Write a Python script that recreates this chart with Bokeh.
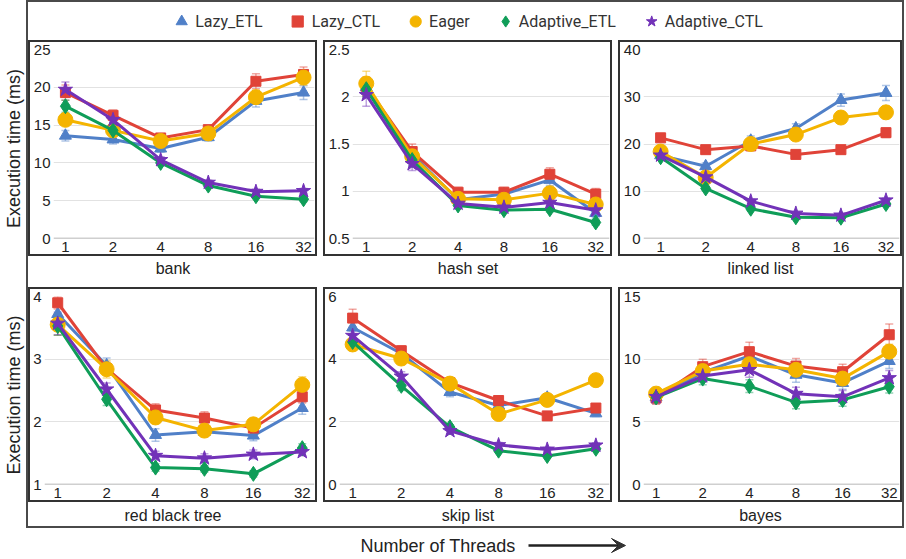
import math
from bokeh.plotting import figure
from bokeh.layouts import row, column
from bokeh.models import (Range1d, FixedTicker, ColumnDataSource, Whisker, TeeHead, Span,
                          Legend, LegendItem, Arrow, VeeHead, NumeralTickFormatter)
from bokeh.core.properties import value
from bokeh.embed import file_html
from bokeh.resources import INLINE

# ---------------- data ----------------
threads = ["1", "2", "4", "8", "16", "32"]
series_names = ["Lazy_ETL", "Lazy_CTL", "Eager", "Adaptive_ETL", "Adaptive_CTL"]
panel_names = ["bank", "hash set", "linked list", "red black tree", "skip list", "bayes"]

bank_lazy_etl = [13.6, 13.1, 11.9, 13.4, 18.2, 19.3]
bank_lazy_ctl = [19.3, 16.3, 13.3, 14.4, 20.8, 21.7]
bank_eager = [15.7, 14.3, 12.9, 13.9, 18.7, 21.3]
bank_adaptive_etl = [17.5, 14.3, 10.0, 7.0, 5.6, 5.2]
bank_adaptive_ctl = [19.7, 15.7, 10.4, 7.4, 6.2, 6.3]
bank_err_lazy_etl = [0.7, 0.6, 0.5, 0.5, 0.8, 0.9]
bank_err_lazy_ctl = [1.0, 0.7, 0.5, 0.5, 1.0, 1.0]
bank_err_eager = [0.6, 0.5, 0.5, 0.5, 0.9, 1.0]
bank_err_adaptive_etl = [0.8, 0.4, 0.3, 0.3, 0.3, 0.3]
bank_err_adaptive_ctl = [1.0, 0.5, 0.4, 0.3, 0.3, 0.3]

hash_lazy_etl = [2.10, 1.39, 0.91, 0.97, 1.12, 0.77]
hash_lazy_ctl = [2.11, 1.42, 0.99, 0.99, 1.18, 0.97]
hash_eager = [2.14, 1.37, 0.92, 0.91, 0.98, 0.86]
hash_adaptive_etl = [2.08, 1.33, 0.85, 0.80, 0.81, 0.67]
hash_adaptive_ctl = [2.02, 1.29, 0.87, 0.83, 0.88, 0.80]
hash_err_lazy_etl = [0.10, 0.07, 0.05, 0.05, 0.06, 0.05]
hash_err_lazy_ctl = [0.10, 0.08, 0.05, 0.05, 0.07, 0.06]
hash_err_eager = [0.13, 0.07, 0.05, 0.05, 0.05, 0.05]
hash_err_adaptive_etl = [0.08, 0.06, 0.03, 0.03, 0.03, 0.03]
hash_err_adaptive_ctl = [0.12, 0.07, 0.04, 0.03, 0.03, 0.03]

linked_lazy_etl = [17.6, 15.3, 20.7, 23.3, 29.3, 30.8]
linked_lazy_ctl = [21.3, 18.8, 19.6, 17.8, 18.8, 22.4]
linked_eager = [18.4, 12.9, 20.0, 22.0, 25.6, 26.7]
linked_adaptive_etl = [17.2, 10.6, 6.3, 4.5, 4.4, 7.3]
linked_adaptive_ctl = [17.6, 13.0, 7.9, 5.3, 4.9, 8.1]
linked_err_lazy_etl = [0.8, 0.7, 1.0, 1.0, 1.3, 1.6]
linked_err_lazy_ctl = [0.9, 0.8, 1.0, 0.7, 0.8, 1.0]
linked_err_eager = [0.8, 0.7, 0.9, 1.0, 1.2, 1.3]
linked_err_adaptive_etl = [0.5, 0.4, 0.4, 0.3, 0.3, 0.4]
linked_err_adaptive_ctl = [0.5, 0.4, 0.4, 0.3, 0.3, 0.4]

rbt_lazy_etl = [3.72, 2.90, 1.79, 1.84, 1.78, 2.22]
rbt_lazy_ctl = [3.90, 2.85, 2.19, 2.06, 1.90, 2.40]
rbt_eager = [3.55, 2.84, 2.07, 1.86, 1.96, 2.59]
rbt_adaptive_etl = [3.53, 2.36, 1.27, 1.25, 1.17, 1.58]
rbt_adaptive_ctl = [3.57, 2.52, 1.46, 1.42, 1.48, 1.52]
rbt_err_lazy_etl = [0.12, 0.12, 0.10, 0.08, 0.08, 0.10]
rbt_err_lazy_ctl = [0.10, 0.10, 0.10, 0.10, 0.08, 0.10]
rbt_err_eager = [0.17, 0.14, 0.10, 0.08, 0.10, 0.13]
rbt_err_adaptive_etl = [0.15, 0.10, 0.06, 0.05, 0.05, 0.07]
rbt_err_adaptive_ctl = [0.18, 0.10, 0.07, 0.07, 0.07, 0.06]

skip_lazy_etl = [5.01, 4.18, 2.95, 2.52, 2.77, 2.27]
skip_lazy_ctl = [5.31, 4.27, 3.25, 2.68, 2.19, 2.44]
skip_eager = [4.47, 4.02, 3.22, 2.25, 2.70, 3.33]
skip_adaptive_etl = [4.55, 3.15, 1.83, 1.08, 0.91, 1.14]
skip_adaptive_ctl = [4.75, 3.45, 1.71, 1.26, 1.12, 1.25]
skip_err_lazy_etl = [0.20, 0.15, 0.15, 0.12, 0.12, 0.10]
skip_err_lazy_ctl = [0.28, 0.15, 0.12, 0.10, 0.08, 0.10]
skip_err_eager = [0.20, 0.20, 0.12, 0.10, 0.10, 0.15]
skip_err_adaptive_etl = [0.10, 0.15, 0.08, 0.06, 0.06, 0.06]
skip_err_adaptive_ctl = [0.15, 0.15, 0.10, 0.08, 0.06, 0.08]

bayes_lazy_etl = [6.95, 8.95, 10.25, 8.75, 8.10, 9.85]
bayes_lazy_ctl = [6.90, 9.40, 10.60, 9.45, 9.00, 11.95]
bayes_eager = [7.25, 9.05, 9.60, 9.15, 8.45, 10.60]
bayes_adaptive_etl = [6.95, 8.45, 7.85, 6.55, 6.75, 7.80]
bayes_adaptive_ctl = [7.00, 8.65, 9.15, 7.25, 7.00, 8.50]
bayes_err_lazy_etl = [0.5, 0.6, 0.6, 0.6, 0.5, 0.6]
bayes_err_lazy_ctl = [0.5, 0.6, 0.75, 0.6, 0.6, 0.85]
bayes_err_eager = [0.5, 0.5, 0.6, 0.5, 0.5, 0.6]
bayes_err_adaptive_etl = [0.4, 0.5, 0.5, 0.5, 0.5, 0.5]
bayes_err_adaptive_ctl = [0.5, 0.5, 0.6, 0.5, 0.5, 0.6]

y_ranges = [(0, 25), (0.5, 2.5), (0, 40), (1, 4), (0, 6), (0, 15)]
y_ticks = [[0, 5, 10, 15, 20, 25], [0.5, 1, 1.5, 2, 2.5], [0, 10, 20, 30, 40],
           [1, 2, 3, 4], [0, 2, 4, 6], [0, 5, 10, 15]]

ylabel_text = "Execution time (ms)"
xlabel_text = "Number of Threads"

panel_values = [
    [bank_lazy_etl, bank_lazy_ctl, bank_eager, bank_adaptive_etl, bank_adaptive_ctl],
    [hash_lazy_etl, hash_lazy_ctl, hash_eager, hash_adaptive_etl, hash_adaptive_ctl],
    [linked_lazy_etl, linked_lazy_ctl, linked_eager, linked_adaptive_etl, linked_adaptive_ctl],
    [rbt_lazy_etl, rbt_lazy_ctl, rbt_eager, rbt_adaptive_etl, rbt_adaptive_ctl],
    [skip_lazy_etl, skip_lazy_ctl, skip_eager, skip_adaptive_etl, skip_adaptive_ctl],
    [bayes_lazy_etl, bayes_lazy_ctl, bayes_eager, bayes_adaptive_etl, bayes_adaptive_ctl],
]
panel_errors = [
    [bank_err_lazy_etl, bank_err_lazy_ctl, bank_err_eager, bank_err_adaptive_etl, bank_err_adaptive_ctl],
    [hash_err_lazy_etl, hash_err_lazy_ctl, hash_err_eager, hash_err_adaptive_etl, hash_err_adaptive_ctl],
    [linked_err_lazy_etl, linked_err_lazy_ctl, linked_err_eager, linked_err_adaptive_etl, linked_err_adaptive_ctl],
    [rbt_err_lazy_etl, rbt_err_lazy_ctl, rbt_err_eager, rbt_err_adaptive_etl, rbt_err_adaptive_ctl],
    [skip_err_lazy_etl, skip_err_lazy_ctl, skip_err_eager, skip_err_adaptive_etl, skip_err_adaptive_ctl],
    [bayes_err_lazy_etl, bayes_err_lazy_ctl, bayes_err_eager, bayes_err_adaptive_etl, bayes_err_adaptive_ctl],
]

# ---------------- style / layout ----------------
colors = ["#5080c8", "#e04338", "#f4b400", "#0f9d58", "#7232b8"]
markers = ["triangle", "square", "circle", "diamond", "star"]
msizes = [12, 10, 15, 15, 15]
AXIS_FONT = "Liberation Sans"
BOX_BORDER = "2px solid #333333"
OUTER_BORDER = "2px solid #4a4a4a"

BOX_W = [289, 289, 284]
BOX_H = [216, 215]
LABEL_H = [31, 24]
LABEL_CENTER = [12, 13]
X_PAD_LEFT = [0.25, 0.3, 0.38, 0.27, 0.27, 0.27]
X_PAD_RIGHT = [0.23, 0.3, 0.3, 0.25, 0.28, 0.22]
GAP = 6
LEG_H = 38
YLAB_W = 26
INNER_W = sum(BOX_W) + 2 * GAP
OUTER_H = 2 + LEG_H + BOX_H[0] + LABEL_H[0] + BOX_H[1] + LABEL_H[1] + 2
XLAB_H = 30


def make_panel(idx, w, h):
    ylo, yhi = y_ranges[idx]
    xs = list(range(len(threads)))
    p = figure(width=w, height=h,
               x_range=Range1d(-X_PAD_LEFT[idx], len(threads) - 1 + X_PAD_RIGHT[idx]),
               y_range=Range1d(ylo, yhi), output_backend="svg", toolbar_location=None,
               min_border_left=2, min_border_right=1, min_border_top=7, min_border_bottom=2)
    p.outline_line_color = None
    p.xaxis.ticker = FixedTicker(ticks=xs)
    p.xaxis.major_label_overrides = {i: t for i, t in zip(xs, threads)}
    p.yaxis.ticker = FixedTicker(ticks=y_ticks[idx])
    p.yaxis.formatter = NumeralTickFormatter(format="0.[0]")
    for ax in (p.xaxis[0], p.yaxis[0]):
        ax.axis_line_color = None
        ax.major_tick_line_color = None
        ax.minor_tick_line_color = None
        ax.major_tick_out = 0
        ax.major_tick_in = 0
        ax.minor_tick_out = 0
        ax.major_label_text_font = AXIS_FONT
        ax.major_label_text_font_size = "15px"
        ax.major_label_text_color = "#222222"
    p.xaxis.major_label_standoff = 3
    p.yaxis.major_label_standoff = 3
    p.xgrid.grid_line_color = None
    p.ygrid.grid_line_color = "#e2e2e2"
    p.ygrid.grid_line_width = 1
    p.add_layout(Span(location=ylo, dimension="width", line_color="#a0a0a0", line_width=1.5))
    for k in range(len(series_names)):
        v = panel_values[idx][k]
        e = panel_errors[idx][k]
        src = ColumnDataSource(dict(x=xs, y=v,
                                    upper=[a + b for a, b in zip(v, e)],
                                    lower=[a - b for a, b in zip(v, e)]))
        wk = Whisker(source=src, base="x", upper="upper", lower="lower", dimension="height",
                     line_color=colors[k], line_alpha=0.45, line_width=1.5,
                     upper_head=TeeHead(size=8, line_color=colors[k], line_alpha=0.45, line_width=1.5),
                     lower_head=TeeHead(size=8, line_color=colors[k], line_alpha=0.45, line_width=1.5))
        wk.level = "underlay"
        p.add_layout(wk)
        p.line("x", "y", source=src, line_color=colors[k], line_width=3)
        p.scatter("x", "y", source=src, marker=markers[k], size=msizes[k],
                  fill_color=colors[k], line_color=colors[k])
    return p


def make_text_fig(w, h):
    p = figure(width=w, height=h, x_range=Range1d(0, w), y_range=Range1d(0, h),
               output_backend="svg", toolbar_location=None, min_border=0,
               x_axis_type=None, y_axis_type=None)
    p.outline_line_color = None
    return p


def make_label(idx, w, h, center):
    p = make_text_fig(w, h)
    p.text(x=[w / 2], y=[h - center], text=[panel_names[idx]], text_align="center",
           text_baseline="middle", text_font=value(AXIS_FONT), text_font_size="16px",
           text_color="#222222")
    return p


# legend
lp = figure(width=INNER_W, height=LEG_H, x_range=Range1d(0, 1), y_range=Range1d(0, 1),
            output_backend="svg", toolbar_location=None, min_border=0,
            x_axis_type=None, y_axis_type=None)
lp.outline_line_color = None
items = []
for k, name in enumerate(series_names):
    r = lp.scatter(x=[0.5], y=[float("nan")], marker=markers[k], size=msizes[k],
                   fill_color=colors[k], line_color=colors[k])
    items.append(LegendItem(label=name, renderers=[r]))
leg = Legend(items=items, orientation="horizontal", location="center",
             border_line_color=None, background_fill_alpha=0, padding=0, margin=0,
             spacing=21, label_standoff=0, glyph_width=28, glyph_height=28,
             label_text_font="Roboto", label_text_font_size="16px", label_text_color="#333333")
lp.add_layout(leg, "center")

rows = []
for r_i in range(2):
    cells = []
    for c_i in range(3):
        idx = r_i * 3 + c_i
        w = BOX_W[c_i]
        pf = make_panel(idx, w - 4, BOX_H[r_i] - 4)
        boxed = column(pf, styles={"border": BOX_BORDER})
        lab = make_label(idx, w, LABEL_H[r_i], LABEL_CENTER[r_i])
        cells.append(column(boxed, lab))
    rows.append(row(*cells, spacing=GAP))

outer = column(lp, rows[0], rows[1], styles={"border": OUTER_BORDER})

# y labels
yl = make_text_fig(YLAB_W, OUTER_H)
row_centers = [2 + LEG_H + BOX_H[0] / 2,
               2 + LEG_H + BOX_H[0] + LABEL_H[0] + BOX_H[1] / 2]
yl.text(x=[YLAB_W / 2 + 0.5] * 2, y=[OUTER_H - c for c in row_centers], text=[ylabel_text] * 2,
        angle=math.pi / 2, text_align="center", text_baseline="middle",
        text_font=value(AXIS_FONT), text_font_size="18px", text_color="#222222")

# x label with arrow
TOTAL_W = YLAB_W + INNER_W + 4
xl = make_text_fig(TOTAL_W, XLAB_H)
xl.text(x=[360], y=[XLAB_H - 17], text=[xlabel_text], text_align="left", text_baseline="middle",
        text_font=value(AXIS_FONT), text_font_size="18px", text_color="#222222")
xl.add_layout(Arrow(x_start=528, y_start=XLAB_H - 17, x_end=625, y_end=XLAB_H - 17,
                    line_color="#222222", line_width=2.5,
                    end=VeeHead(size=14, fill_color="#333333", line_color="#333333")))

root = column(row(yl, outer), xl)

open("out.html", "w").write(file_html(root, INLINE))
